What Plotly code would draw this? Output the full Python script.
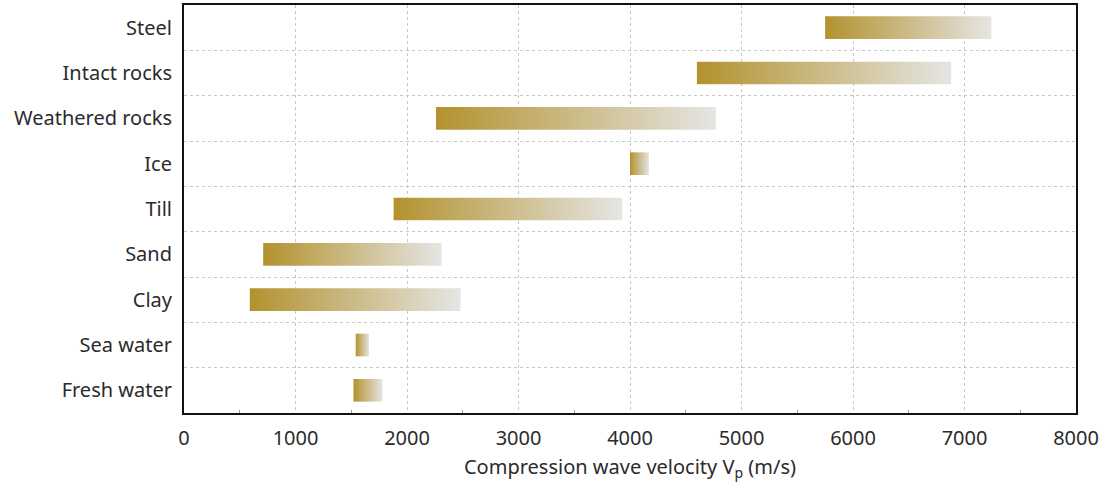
import plotly.graph_objects as go

# Categories listed top to bottom
materials = ["Steel", "Intact rocks", "Weathered rocks", "Ice", "Till",
             "Sand", "Clay", "Sea water", "Fresh water"]
vp_min = [5750, 4600, 2260, 4000, 1880, 710, 590, 1540, 1520]
vp_max = [7240, 6880, 4770, 4170, 3930, 2310, 2480, 1660, 1780]
x_ticks = [0, 1000, 2000, 3000, 4000, 5000, 6000, 7000, 8000]

GOLD = "#b3922e"
GREY = "#e5e5e3"
HALF = 0.25
n = len(materials)
ypos = [n - 1 - i for i in range(n)]

fig = go.Figure()
for name, lo, hi, y in zip(materials, vp_min, vp_max, ypos):
    fig.add_trace(go.Scatter(
        x=[lo, hi, hi, lo, lo],
        y=[y - HALF, y - HALF, y + HALF, y + HALF, y - HALF],
        mode="lines", line=dict(width=0), fill="toself",
        fillgradient=dict(type="horizontal",
                          colorscale=[[0, GOLD], [1, GREY]]),
        name=name, showlegend=False, hoverinfo="skip",
    ))

font_family = "Noto Sans, Open Sans, sans-serif"
GRID = "#c8c8c8"
fig.update_layout(
    width=1101, height=483,
    margin=dict(l=184, r=25, t=5, b=70, autoexpand=False),
    paper_bgcolor="white", plot_bgcolor="white",
    font=dict(family=font_family, size=20, color="#2b2b2b"),
    xaxis=dict(
        range=[0, 8000], tickvals=x_ticks,
        showgrid=True, gridcolor=GRID, griddash="dot", gridwidth=1,
        showline=True, linecolor="#111", linewidth=2, mirror=True,
        ticks="", ticklabelstandoff=6, zeroline=False, automargin=False,
        title=dict(text="Compression wave velocity V<sub>p</sub> (m/s)",
                   font=dict(size=20), standoff=10),
        minor=dict(tickvals=[500, 1500, 2500, 3500, 4500, 5500, 6500, 7500],
                   ticks="inside", ticklen=3, tickcolor="#999", showgrid=False),
    ),
    yaxis=dict(
        range=[-0.5, n - 0.5], tickvals=ypos, ticktext=materials,
        showgrid=False, zeroline=False, automargin=False,
        showline=True, linecolor="#111", linewidth=2, mirror=True,
        ticks="", ticklabelstandoff=6,
        minor=dict(tickvals=[y + 0.5 for y in range(n - 1)],
                   showgrid=True, gridcolor=GRID, griddash="dot",
                   gridwidth=1, ticks=""),
    ),
)

fig.write_html("out.html", config={"displayModeBar": False},
               post_script="document.body.style.margin='0';")
